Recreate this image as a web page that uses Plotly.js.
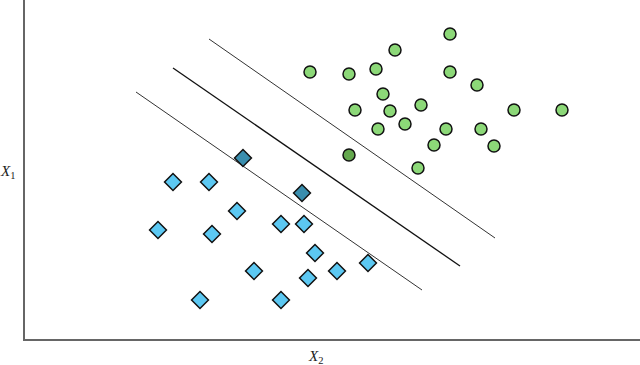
<!DOCTYPE html>
<html>
<head>
<meta charset="utf-8">
<script src="https://cdn.plot.ly/plotly-3.0.1.min.js"></script>
<style>html,body{margin:0;padding:0;background:#fff}#chart{width:640px;height:365px}</style>
</head>
<body>
<div id="chart"></div>
<script>
// Class A (diamonds), normal points
var diamondX = [173, 209, 237, 158, 212, 281, 304, 315, 254, 337, 308, 368, 200, 281];
var diamondY = [183, 183, 154, 135, 131, 141, 141, 112, 94, 94, 87, 102, 65, 65];
// Class A support vectors
var diamondSvX = [243, 302];
var diamondSvY = [207, 172];
// Class B (circles), normal points
var circleX = [450, 395, 310, 349, 376, 450, 477, 383, 355, 390, 421, 514, 562, 378, 405, 446, 481, 434, 494, 418];
var circleY = [331, 315, 293, 291, 296, 293, 280, 271, 255, 254, 260, 255, 255, 236, 241, 236, 236, 220, 219, 197];
// Class B support vector
var circleSvX = [349];
var circleSvY = [210];
// Margin and decision lines (endpoints)
var upperX = [209, 495], upperY = [326, 127];
var middleX = [173, 460], middleY = [297, 99];
var lowerX = [136, 422], lowerY = [273, 75];

var traces = [
  {x: upperX, y: upperY, mode: 'lines', line: {color: '#333', width: 1}, hoverinfo: 'skip'},
  {x: middleX, y: middleY, mode: 'lines', line: {color: '#111', width: 1.3}, hoverinfo: 'skip'},
  {x: lowerX, y: lowerY, mode: 'lines', line: {color: '#333', width: 1}, hoverinfo: 'skip'},
  {x: diamondX, y: diamondY, mode: 'markers', marker: {symbol: 'diamond', size: 13, color: '#5CC8F2', line: {color: '#111', width: 1.5}}},
  {x: diamondSvX, y: diamondSvY, mode: 'markers', marker: {symbol: 'diamond', size: 13, color: '#3A8EAE', line: {color: '#111', width: 1.5}}},
  {x: circleX, y: circleY, mode: 'markers', marker: {symbol: 'circle', size: 12, color: '#8CD878', line: {color: '#111', width: 1.5}}},
  {x: circleSvX, y: circleSvY, mode: 'markers', marker: {symbol: 'circle', size: 12, color: '#64A84E', line: {color: '#111', width: 1.5}}}
];

var layout = {
  width: 640, height: 365,
  margin: {l: 25, r: 0, t: 0, b: 26, pad: 0},
  paper_bgcolor: '#fff', plot_bgcolor: '#fff',
  showlegend: false,
  xaxis: {range: [25, 640], showline: true, linecolor: '#666', linewidth: 2, showgrid: false, zeroline: false, showticklabels: false, ticks: '', fixedrange: true},
  yaxis: {range: [26, 365], showline: true, linecolor: '#666', linewidth: 2, showgrid: false, zeroline: false, showticklabels: false, ticks: '', fixedrange: true},
  annotations: [
    {text: '<i>X</i><sub>2</sub>', xref: 'paper', yref: 'paper', x: (315 - 25) / 615, y: 0, xanchor: 'center', yanchor: 'middle', yshift: -18, showarrow: false, font: {family: 'Liberation Serif, DejaVu Serif, serif', size: 15, color: '#222'}},
    {text: '<i>X</i><sub>1</sub>', xref: 'paper', yref: 'paper', x: 0, xshift: -18, y: (365 - 172 - 26) / 339, xanchor: 'center', yanchor: 'middle', showarrow: false, font: {family: 'Liberation Serif, DejaVu Serif, serif', size: 15, color: '#222'}}
  ]
};

Plotly.newPlot('chart', traces, layout, {displayModeBar: false, staticPlot: true});
</script>
</body>
</html>
